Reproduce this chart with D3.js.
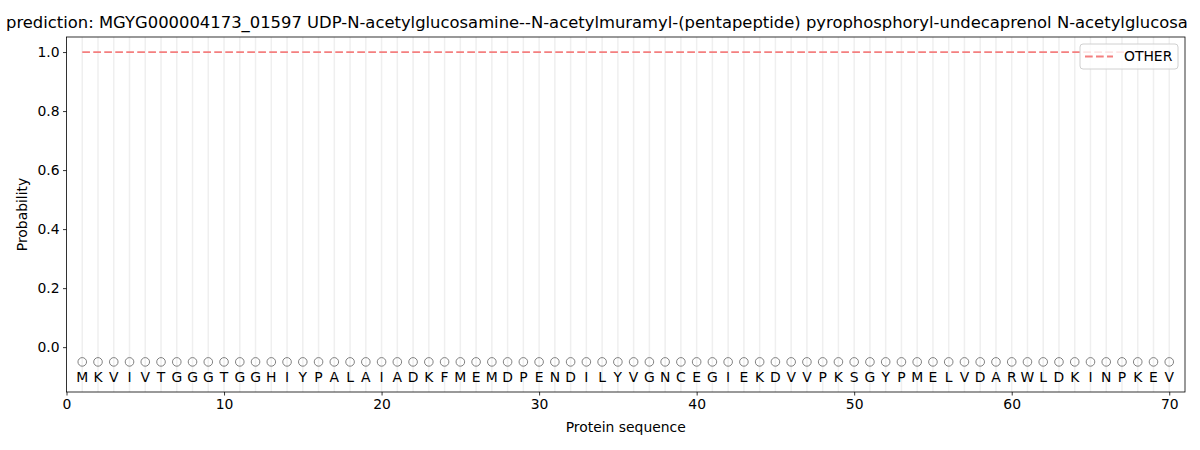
<!DOCTYPE html>
<html>
<head>
<meta charset="utf-8">
<script src="https://cdn.jsdelivr.net/npm/d3@7"></script>
<style>
  body { margin: 0; background: #fff; }
  text { font-family: "DejaVu Sans", sans-serif; }
</style>
</head>
<body>
<div id="chart"></div>
<script>
// sequence residues, positions 1..70
var residues = ["M","K","V","I","V","T","G","G","G","T","G","G","H","I","Y","P","A","L","A","I",
  "A","D","K","F","M","E","M","D","P","E","N","D","I","L","Y","V","G","N","C","E",
  "G","I","E","K","D","V","V","P","K","S","G","Y","P","M","E","L","V","D","A","R",
  "W","L","D","K","I","N","P","K","E","V"];
var positions = residues.map(function(d, i) { return i + 1; });
var otherProb = positions.map(function() { return 1.0; });
var xTicks = [0, 10, 20, 30, 40, 50, 60, 70];
var yTicks = [0.0, 0.2, 0.4, 0.6, 0.8, 1.0];
// title as visible in the figure (it runs past the right edge)
var titleText = "prediction: MGYG000004173_01597 UDP-N-acetylglucosamine--N-acetylmuramyl-(pentapeptide) pyrophosphoryl-undecaprenol N-acetylglucosa";

var margin = {top: 37, right: 15, bottom: 58, left: 66.5};
var W = 1200, H = 450;
var width = W - margin.left - margin.right,
    height = H - margin.top - margin.bottom;

var svg = d3.select("#chart").append("svg")
    .attr("width", W)
    .attr("height", H);

var g = svg.append("g")
    .attr("transform", "translate(" + margin.left + "," + margin.top + ")");

var x = d3.scaleLinear().domain([0, 71]).range([0, width]);
var y = d3.scaleLinear().domain([-0.152, 1.051]).range([height, 0]);

// vertical grid at every residue
g.selectAll(".grid")
    .data(positions)
    .enter().append("line")
    .attr("class", "grid")
    .attr("x1", function(d) { return x(d); })
    .attr("x2", function(d) { return x(d); })
    .attr("y1", 0)
    .attr("y2", height)
    .attr("stroke", "#efefef")
    .attr("stroke-width", 1.5);

// probability line
var line = d3.line()
    .x(function(d, i) { return x(positions[i]); })
    .y(function(d) { return y(d); });

g.append("path")
    .datum(otherProb)
    .attr("d", line)
    .attr("fill", "none")
    .attr("stroke", "#f47f7f")
    .attr("stroke-width", 1.8)
    .attr("stroke-dasharray", "7.7,3.3");

// residue markers
g.selectAll(".dot")
    .data(positions)
    .enter().append("circle")
    .attr("cx", function(d) { return x(d); })
    .attr("cy", y(-0.05))
    .attr("r", 4.3)
    .attr("fill", "none")
    .attr("stroke", "#808080")
    .attr("stroke-width", 1);

g.selectAll(".res")
    .data(residues)
    .enter().append("text")
    .attr("x", function(d, i) { return x(positions[i]); })
    .attr("y", y(-0.1))
    .attr("dy", "0.35em")
    .attr("text-anchor", "middle")
    .attr("font-size", "13.9px")
    .attr("fill", "#000")
    .text(function(d) { return d; });

// axes
var xAxis = g.append("g")
    .attr("transform", "translate(0," + height + ")")
    .call(d3.axisBottom(x).tickValues(xTicks).tickSizeOuter(0).tickSize(3.5).tickPadding(3.5));
var yAxis = g.append("g")
    .call(d3.axisLeft(y).tickValues(yTicks).tickFormat(d3.format(".1f")).tickSizeOuter(0).tickSize(3.5).tickPadding(3.5));

[xAxis, yAxis].forEach(function(a) {
  a.selectAll("text").attr("font-size", "13.9px").attr("fill", "#000")
    .attr("font-family", "DejaVu Sans, sans-serif");
  a.selectAll("line").attr("stroke", "#000").attr("stroke-width", 0.8);
  a.select(".domain").remove();
});

// frame
g.append("rect")
    .attr("width", width)
    .attr("height", height)
    .attr("fill", "none")
    .attr("stroke", "#000")
    .attr("stroke-width", 0.8);

// labels
var title = svg.append("text")
    .attr("x", 6)
    .attr("y", 28)
    .attr("text-anchor", "start")
    .attr("font-size", "16.7px")
    .text(titleText);
// shrink the font a little so the visible title stays inside the window
var tw = title.node().getComputedTextLength();
if (tw > 1182) title.attr("font-size", (16.7 * 1182 / tw).toFixed(2) + "px");

svg.append("text")
    .attr("x", margin.left + width / 2)
    .attr("y", 432)
    .attr("text-anchor", "middle")
    .attr("font-size", "13.9px")
    .text("Protein sequence");

svg.append("text")
    .attr("transform", "translate(27," + (margin.top + height / 2) + ") rotate(-90)")
    .attr("text-anchor", "middle")
    .attr("font-size", "13.9px")
    .text("Probability");

// legend
var leg = g.append("g").attr("transform", "translate(" + (width - 105) + ",7)");
leg.append("rect")
    .attr("width", 98)
    .attr("height", 25)
    .attr("rx", 3)
    .attr("fill", "#fff")
    .attr("fill-opacity", 0.8)
    .attr("stroke", "#d0d0d0");
leg.append("line")
    .attr("x1", 5).attr("x2", 33)
    .attr("y1", 12.5).attr("y2", 12.5)
    .attr("stroke", "#f47f7f")
    .attr("stroke-width", 1.8)
    .attr("stroke-dasharray", "7.7,3.3");
leg.append("text")
    .attr("x", 44)
    .attr("y", 12.5)
    .attr("dy", "0.35em")
    .attr("font-size", "13.9px")
    .text("OTHER");
</script>
</body>
</html>
